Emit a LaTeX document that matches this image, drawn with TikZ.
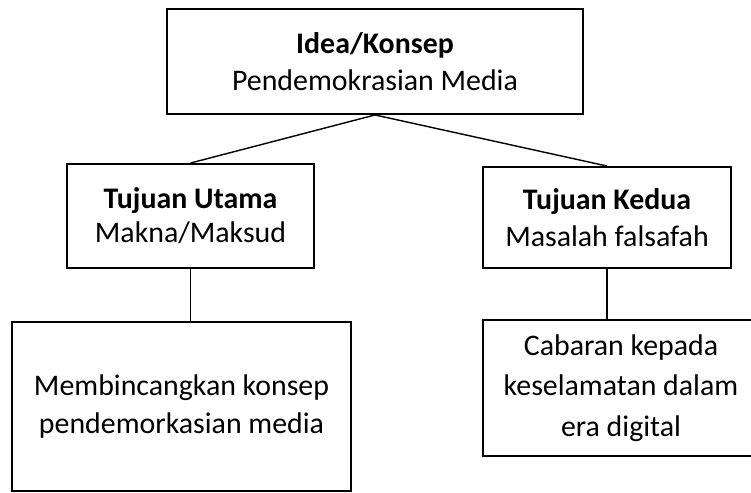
\documentclass[tikz,border=0pt]{standalone}
\usepackage{fontspec}
\setmainfont{Carlito}

\begin{document}
\begin{tikzpicture}[
    kotak/.style={draw, line width=1.1pt, align=center, inner sep=0pt,
        font=\fontsize{17}{21}\selectfont},
    garis/.style={line width=0.8pt}]
    \clip (0,0) rectangle (15.02,-9.84);
    %idea
    \node[kotak, minimum width=8.32cm, minimum height=2.10cm] (idea) at (7.50,-1.23)
        {\textbf{Idea/Konsep}\\Pendemokrasian Media};
    %tujuan
    \node[kotak, minimum width=4.94cm, minimum height=2.08cm,
        font=\fontsize{17}{19.5}\selectfont] (utama) at (3.81,-4.32)
        {\textbf{Tujuan Utama}\\Makna/Maksud};
    \node[kotak, minimum width=4.96cm, minimum height=2.02cm,
        font=\fontsize{17}{21}\selectfont] (kedua) at (12.14,-4.35)
        {\textbf{Tujuan Kedua}\\Masalah falsafah};
    %bawah
    \node[kotak, minimum width=6.78cm, minimum height=3.38cm,
        font=\fontsize{17}{21.5}\selectfont] (bincang) at (3.63,-8.13)
        {Membincangkan konsep\\pendemorkasian media};
    \node[kotak, minimum width=5.52cm, minimum height=2.72cm,
        font=\fontsize{17}{23}\selectfont] (cabaran) at (12.42,-7.76)
        {Cabaran kepada\\keselamatan dalam\\era digital};
    %garis
    \draw[garis] (idea.south) -- (utama.north);
    \draw[garis] (idea.south) -- (kedua.north);
    \draw[garis] (utama.south) -- (utama.south |- bincang.north);
    \draw[garis] (kedua.south) -- (kedua.south |- cabaran.north);
\end{tikzpicture}
\end{document}
